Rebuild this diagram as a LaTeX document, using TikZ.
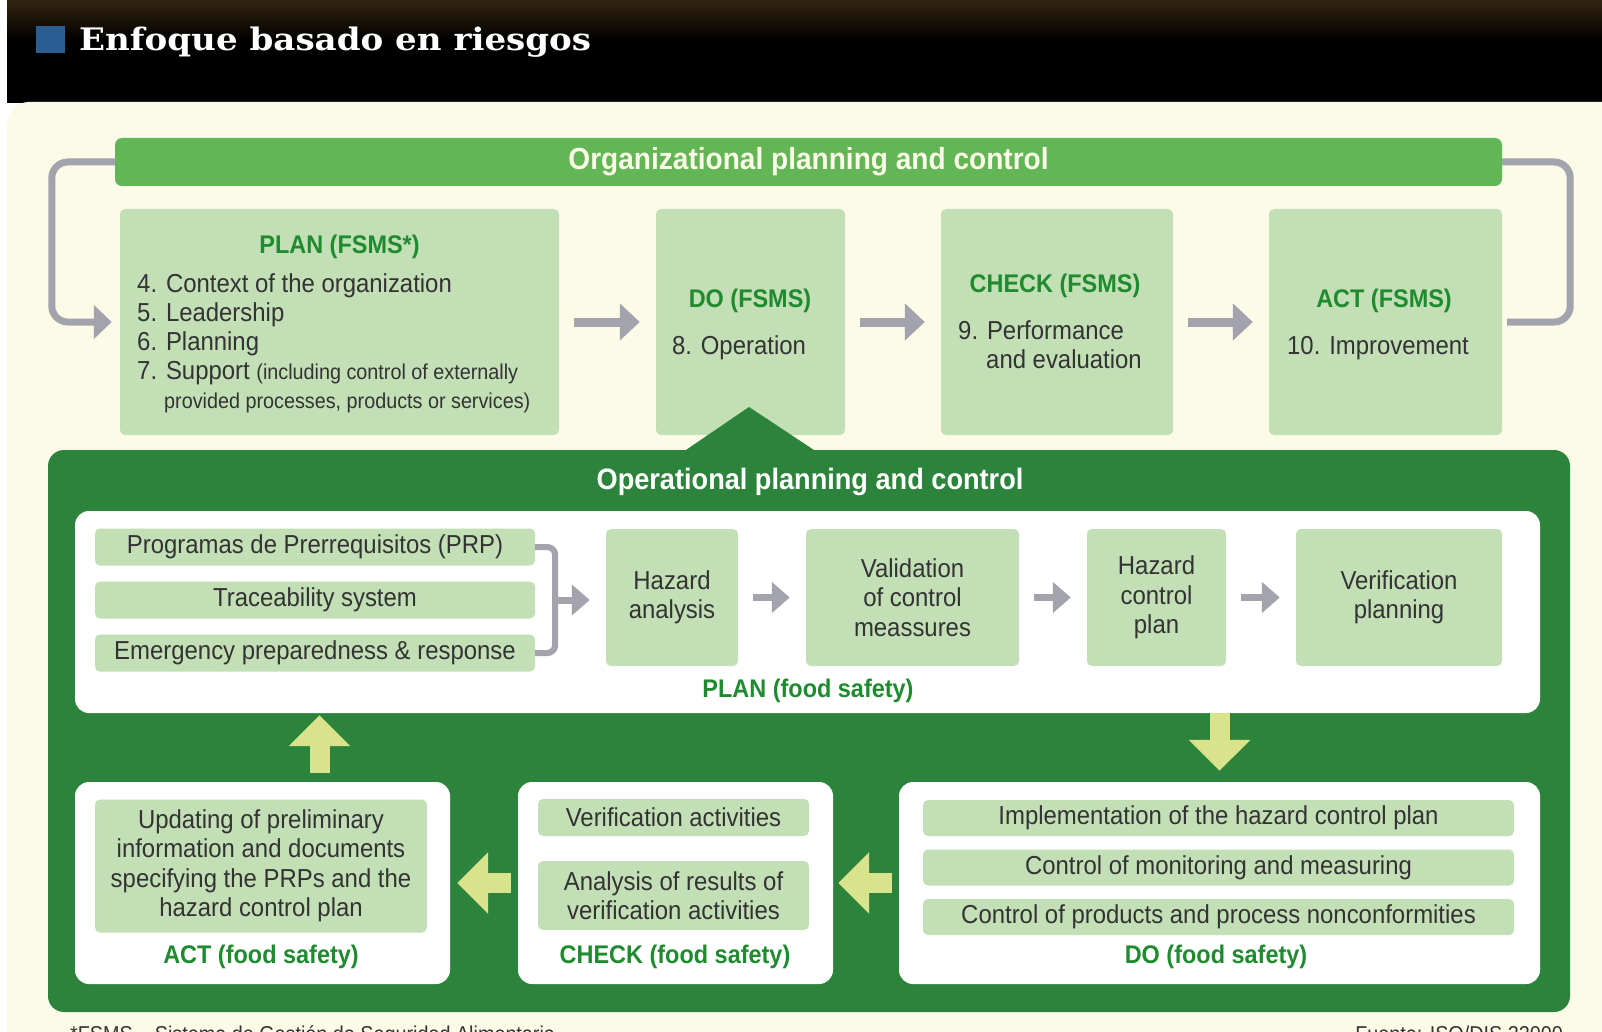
\documentclass[tikz,border=0pt]{standalone}
\usepackage{fontspec}
\setmainfont{Liberation Sans}[FakeStretch=0.92]
\newfontfamily\titlefont{DejaVu Serif}[FakeStretch=1.1]
\usetikzlibrary{arrows.meta}

\definecolor{cream}{HTML}{FCFBE8}
\definecolor{topbrown}{HTML}{33240F}
\definecolor{titleblue}{HTML}{2A5E93}
\definecolor{boxgreen}{HTML}{C2DFB5}
\definecolor{bargreen}{HTML}{62B655}
\definecolor{darkgreen}{HTML}{2C843C}
\definecolor{headgreen}{HTML}{1F8B2F}
\definecolor{arrowgray}{HTML}{A3A3AD}
\definecolor{lemon}{HTML}{D8E38C}
\definecolor{txtgray}{HTML}{333333}

\tikzset{
    lightbox/.style={fill=boxgreen, rounded corners=5pt, inner sep=0pt, text=txtgray, align=center, font=\fontsize{26}{29.5}\selectfont},
    whitebox/.style={fill=white, rounded corners=14pt, inner sep=0pt},
    head/.style={text=headgreen, inner sep=0pt, font=\bfseries\fontsize{25.5}{29}\selectfont},
    body/.style={text=txtgray, inner sep=0pt, align=left, font=\fontsize{26}{29}\selectfont},
    bigtitle/.style={text=cream, inner sep=0pt, font=\bfseries\fontsize{30.5}{35}\selectfont},
    grayarrow/.style={draw=arrowgray, line width=9pt, -{Triangle[width=36pt,length=20pt]}, shorten <=15pt, shorten >=16pt},
    smallarrow/.style={draw=arrowgray, line width=7pt, -{Triangle[width=30pt,length=18pt]}, shorten <=15pt, shorten >=16pt},
    loopline/.style={draw=arrowgray, line width=7pt, rounded corners=16pt},
    yarrow/.style={draw=lemon, line width=20pt, -{Triangle[width=60pt,length=31pt]}}
}

\begin{document}
\begin{tikzpicture}[x=1pt, y=-1pt]
    \useasboundingbox (0,0) rectangle (1602,1032);
    \fill[white] (0,0) rectangle (1602,1032);
    \fill[black] (7,0) rectangle (1602,103);
    \shade[top color=topbrown, bottom color=black] (7,0) rectangle (1602,40);
    \fill[cream] (1602,1060) -- (1602,102) [rounded corners=22pt] -- (7,102) -- (7,1060) -- cycle;

    % title
    \fill[titleblue] (36,26) rectangle (65,53);
    \node [anchor=base west, inner sep=0pt, text=white, font=\titlefont\bfseries\fontsize{31}{35}\selectfont] (title) at (79,51) {Enfoque basado en riesgos};

    % organizational level
    \node [fill=bargreen, rounded corners=7pt, minimum width=1387, minimum height=48, bigtitle] (orgbar) at (808.5,162) {Organizational planning and control};

    \node [lightbox, minimum width=439, minimum height=226] (plan) at (339.5,322) {};
    \node [head] (planhead) at (339.5,247) {PLAN (FSMS*)};
    \node [body, anchor=north west] (planlist) at (137,273) {4. Context of the organization\\5. Leadership\\6. Planning\\7. Support {\fontsize{21.5}{24}\selectfont (including control of externally}\\\hspace*{27pt}{\fontsize{21.5}{24}\selectfont provided processes, products or services)}};

    \node [lightbox, minimum width=189, minimum height=226] (do) at (750.5,322) {};
    \node [head] (dohead) at (750,301) {DO (FSMS)};
    \node [body] (dotxt) at (739,348) {8. Operation};

    \node [lightbox, minimum width=232, minimum height=226] (check) at (1057,322) {};
    \node [head] (checkhead) at (1055,286) {CHECK (FSMS)};
    \node [body] (checktxt) at (1050,345) {9. Performance\\\hspace*{28pt}and evaluation};

    \node [lightbox, minimum width=233, minimum height=226] (act) at (1385.5,322) {};
    \node [head] (acthead) at (1384,301) {ACT (FSMS)};
    \node [body] (acttxt) at (1378,348) {10. Improvement};

    \draw[grayarrow] (plan) -- (do);
    \draw[grayarrow] (do) -- (check);
    \draw[grayarrow] (check) -- (act);
    \draw[loopline, shorten <=5pt] (act.east) -- ++(68,0) |- (orgbar.east);
    \draw[loopline, -{Triangle[width=33pt,length=18pt]}, shorten >=8pt] (orgbar.west) -- ++(-63,0) |- (plan.west);

    % operational level
    \node [fill=darkgreen, rounded corners=16pt, minimum width=1522, minimum height=562] (opsframe) at (809,731) {};
    \fill[darkgreen] (683,452) -- (749,407) -- (817,452) -- cycle;
    \node [bigtitle, text=white, font=\bfseries\fontsize{29.5}{34}\selectfont] (opshead) at (810,482) {Operational planning and control};

    \node [whitebox, minimum width=1465, minimum height=202] (planfs) at (807.5,612) {};
    \node [lightbox, minimum width=440, minimum height=37] (prp1) at (315,547) {Programas de Prerrequisitos (PRP)};
    \node [lightbox, minimum width=440, minimum height=37] (prp2) at (315,600) {Traceability system};
    \node [lightbox, minimum width=440, minimum height=37] (prp3) at (315,653) {Emergency preparedness \& response};

    \node [lightbox, minimum width=132, minimum height=137] (hazan) at (672,597.5) {Hazard\\analysis};
    \node [lightbox, minimum width=213, minimum height=137] (valid) at (912.5,597.5) {Validation\\of control\\meassures};
    \node [lightbox, minimum width=139, minimum height=137] (hcplan) at (1156.5,597.5) {Hazard\\control\\plan};
    \node [lightbox, minimum width=206, minimum height=137] (verplan) at (1399,597.5) {Verification\\planning};

    \draw[loopline, line width=6pt, rounded corners=8pt] (prp1.east) -- ++(20,0) |- (prp3.east);
    \draw[smallarrow, shorten <=0pt] ([xshift=20pt]prp2.east) -- (prp2.east -| hazan.west);
    \draw[smallarrow] (hazan) -- (valid);
    \draw[smallarrow] (valid) -- (hcplan);
    \draw[smallarrow] (hcplan) -- (verplan);
    \node [head] (planlbl) at (808,691) {PLAN (food safety)};

    \node [whitebox, minimum width=375, minimum height=202] (actfs) at (262.5,883) {};
    \node [whitebox, minimum width=315, minimum height=202] (checkfs) at (675.5,883) {};
    \node [whitebox, minimum width=641, minimum height=202] (dofs) at (1219.5,883) {};

    \node [lightbox, minimum width=332, minimum height=133] (actitem) at (261,866) {Updating of preliminary\\information and documents\\specifying the PRPs and the\\hazard control plan};
    \node [head] (actlbl) at (261,957) {ACT (food safety)};

    \node [lightbox, minimum width=271, minimum height=37] (chk1) at (673.5,817.5) {Verification activities};
    \node [lightbox, minimum width=271, minimum height=69] (chk2) at (673.5,895.5) {Analysis of results of\\verification activities};
    \node [head] (chklbl) at (675,957) {CHECK (food safety)};

    \node [lightbox, minimum width=591, minimum height=36] (do1) at (1218.5,818) {Implementation of the hazard control plan};
    \node [lightbox, minimum width=591, minimum height=36] (do2) at (1218.5,867.5) {Control of monitoring and measuring};
    \node [lightbox, minimum width=591, minimum height=36] (do3) at (1218.5,917) {Control of products and process nonconformities};
    \node [head] (dolbl) at (1216,957) {DO (food safety)};

    \coordinate (upfoot) at ([xshift=57pt]actfs.north);
    \draw[yarrow, shorten <=9pt, shorten >=2pt] (upfoot) -- (upfoot |- planfs.south);
    \draw[yarrow, shorten >=11pt] (dofs.north |- planfs.south) -- (dofs.north);
    \draw[yarrow, shorten <=7pt, shorten >=7pt] (checkfs) -- (actfs);
    \draw[yarrow, shorten <=7pt, shorten >=5pt] (dofs) -- (checkfs);

    % footnote, cut by the page edge
    \node [anchor=base west, inner sep=0pt, text=txtgray, font=\fontsize{21.5}{24}\selectfont] (fsmsnote) at (70,1041) {*FSMS -- Sistema de Gestión de Seguridad Alimentaria};
    \node [anchor=base east, inner sep=0pt, text=txtgray, font=\fontsize{21.5}{24}\selectfont] (source) at (1563,1041) {Fuente: ISO/DIS 22000};
\end{tikzpicture}
\end{document}
